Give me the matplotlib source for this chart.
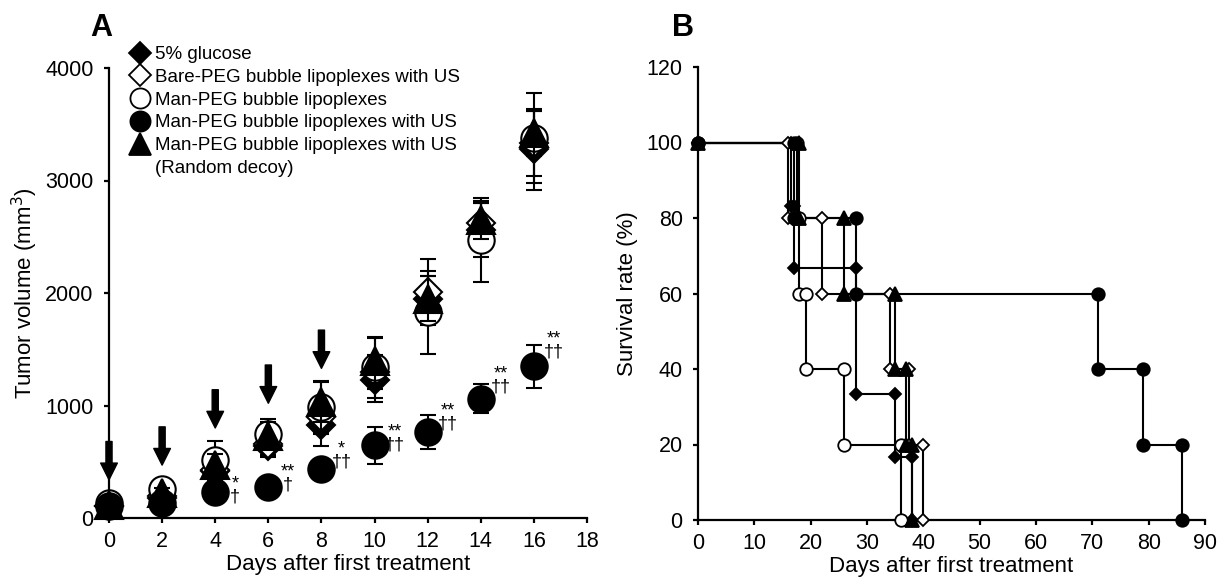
import matplotlib
matplotlib.use("Agg")
import matplotlib.pyplot as plt
from matplotlib.lines import Line2D

plt.rcParams['font.family'] = ['Liberation Sans', 'DejaVu Sans']
plt.rcParams['font.size'] = 16

# ---- Panel A: tumor volume ----
days = [0, 2, 4, 6, 8, 10, 12, 14, 16]
labels = ['5% glucose',
          'Bare-PEG bubble lipoplexes with US',
          'Man-PEG bubble lipoplexes',
          'Man-PEG bubble lipoplexes with US',
          'Man-PEG bubble lipoplexes with US',
          '(Random decoy)']

glucose = [110, 180, 420, 640, 830, 1230, 1950, 2560, 3280]
glucose_err = [20, 40, 60, 100, 190, 200, 200, 240, 360]
bare_us = [110, 200, 430, 660, 900, 1300, 2010, 2620, 3330]
bare_us_err = [20, 50, 80, 100, 150, 150, 290, 180, 290]
man = [130, 260, 512, 748, 985, 1340, 1828, 2471, 3382]
man_err = [30, 60, 170, 130, 230, 270, 370, 370, 400]
man_us = [110, 130, 230, 275, 432, 645, 763, 1059, 1349]
man_us_err = [20, 30, 40, 40, 50, 165, 150, 130, 190]
decoy = [120, 220, 470, 730, 1030, 1400, 1950, 2650, 3420]
decoy_err = [20, 50, 100, 120, 180, 200, 200, 170, 200]

# treatment arrows (tip height) and significance marks
arrow_days = [0, 2, 4, 6, 8]
arrow_tip = [340, 470, 800, 1020, 1330]
sig_days = [4, 6, 8, 10, 12, 14, 16]
sig_star = ['*', '**', '*', '**', '**', '**', '**']
sig_dagger = ['\u2020', '\u2020', '\u2020\u2020', '\u2020\u2020', '\u2020\u2020', '\u2020\u2020', '\u2020\u2020']
sig_y = [245, 350, 555, 705, 890, 1220, 1530]

# ---- Panel B: survival ----
t_glucose = [0, 16.5, 17, 28, 35, 38]
s_glucose = [100, 83.3, 66.7, 33.3, 16.7, 0]
t_bare_us = [0, 16, 22, 34, 37.5, 40]
s_bare_us = [100, 80, 60, 40, 20, 0]
t_man = [0, 17.5, 18, 19.2, 26, 36]
s_man = [100, 80, 60, 40, 20, 0]
t_man_us = [0, 17, 28, 71, 79, 86]
s_man_us = [100, 80, 60, 40, 20, 0]
t_decoy = [0, 18, 26, 35, 37, 38]
s_decoy = [100, 80, 60, 40, 20, 0]

styles = [
    dict(marker='D', mfc='black', mec='black'),
    dict(marker='D', mfc='white', mec='black'),
    dict(marker='o', mfc='white', mec='black'),
    dict(marker='o', mfc='black', mec='black'),
    dict(marker='^', mfc='black', mec='black'),
]
size_a = [14, 14, 19, 19, 20]
size_b = [6.5, 6.5, 9, 9, 9.5]
order = [3, 4, 5, 7, 6]

fig = plt.figure(figsize=(12.21, 5.8), dpi=100)
axA = fig.add_axes([109 / 1221, 62 / 580, 478 / 1221, 450 / 580])
axB = fig.add_axes([698 / 1221, 60 / 580, 507 / 1221, 453 / 580])

series_a = [(glucose, glucose_err), (bare_us, bare_us_err), (man, man_err),
            (man_us, man_us_err), (decoy, decoy_err)]
for i, (vals, err) in enumerate(series_a):
    axA.errorbar(days, vals, yerr=err, fmt='none', ecolor='black',
                 elinewidth=1.5, capsize=6, capthick=1.5, zorder=order[i] - 0.5,
                 clip_on=False)
    axA.plot(days, vals, ls='none', ms=size_a[i], mew=1.5, zorder=order[i],
             clip_on=False, **styles[i])

for d, tip in zip(arrow_days, arrow_tip):
    axA.annotate('', xy=(d, tip), xytext=(d, tip + 340),
                 arrowprops=dict(arrowstyle='simple,head_width=0.6,head_length=0.6,tail_width=0.22',
                                 mutation_scale=20, color='black', shrinkA=0, shrinkB=0),
                 zorder=10)

# stars over daggers, one text per day so they do not collide
for d, s, g, y in zip(sig_days, sig_star, sig_dagger, sig_y):
    axA.text(d + 0.75, y, s + '\n' + g, ha='center', va='center', fontsize=13,
             linespacing=0.7, multialignment='center')

axA.set_xlim(0, 18)
axA.set_ylim(0, 4000)
axA.set_xticks(range(0, 19, 2))
axA.set_yticks(range(0, 4001, 1000))
axA.set_xlabel('Days after first treatment', labelpad=1)
axA.set_ylabel('Tumor volume (mm$^3$)', labelpad=4)

handles = [Line2D([], [], ls='none', ms=[11.5, 11.5, 14.5, 14.5, 16][i], mew=1.3, **styles[i])
           for i in range(5)]
handles.append(Line2D([], [], ls='none', marker=None))
fig.legend(handles, labels, loc='upper left', bbox_to_anchor=(131 / 1221, 1 - 46 / 580),
           frameon=False, fontsize=13.5, handlelength=1.0, handletextpad=0.3,
           labelspacing=0.3, borderpad=0, borderaxespad=0)

# survival curves
series_b = [(t_glucose, s_glucose), (t_bare_us, s_bare_us), (t_man, s_man),
            (t_man_us, s_man_us), (t_decoy, s_decoy)]
for i, (t, s) in enumerate(series_b):
    axB.step(t, s, where='post', color='black', lw=1.5, zorder=2, clip_on=False)
    mx = [t[0]]
    my = [s[0]]
    for k in range(1, len(t)):
        mx += [t[k], t[k]]
        my += [s[k - 1], s[k]]
    axB.plot(mx, my, ls='none', ms=size_b[i], mew=1.3, zorder=order[i],
             clip_on=False, **styles[i])

axB.set_xlim(0, 90)
axB.set_ylim(0, 120)
axB.set_xticks(range(0, 91, 10))
axB.set_yticks(range(0, 121, 20))
axB.set_xlabel('Days after first treatment', labelpad=1)
axB.set_ylabel('Survival rate (%)', labelpad=6)

for ax in (axA, axB):
    for side in ('top', 'right'):
        ax.spines[side].set_visible(False)
    for side in ('left', 'bottom'):
        ax.spines[side].set_linewidth(1.6)
    ax.tick_params(width=1.6, length=3.5, labelsize=15.5)
    ax.tick_params(axis='x', pad=6)
    ax.tick_params(axis='y', pad=7.5)

fig.text(101 / 1221, 1 - 28 / 580, 'A', fontsize=22, fontweight='bold', ha='center', va='center')
fig.text(683 / 1221, 1 - 28 / 580, 'B', fontsize=22, fontweight='bold', ha='center', va='center')

fig.savefig('out.png', dpi=100)
